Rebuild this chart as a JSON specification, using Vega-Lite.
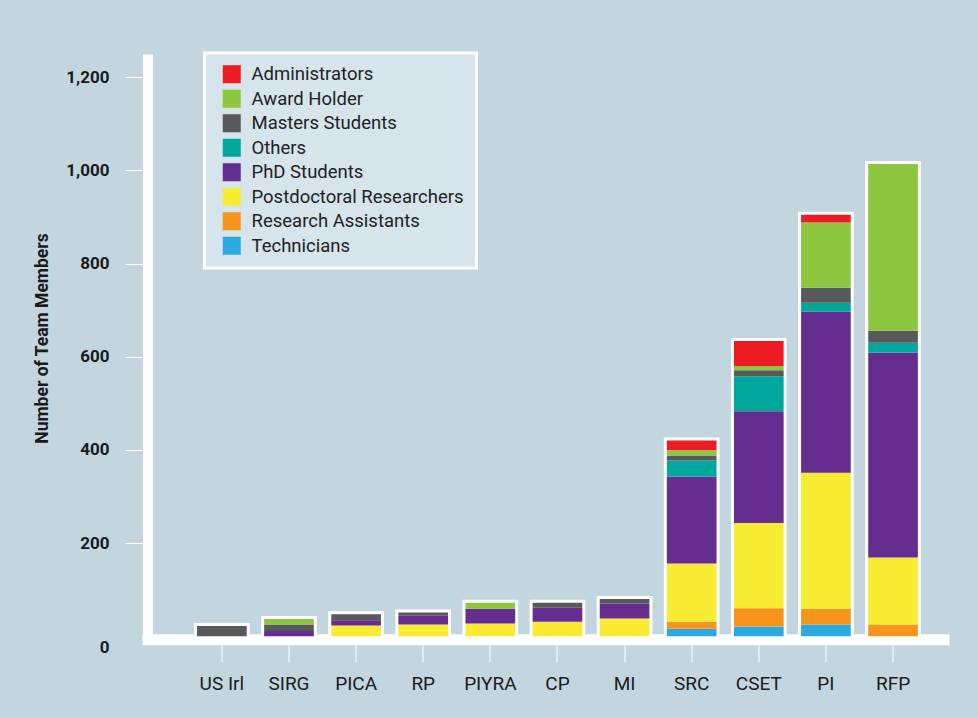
{
  "$schema": "https://vega.github.io/schema/vega-lite/v6.json",
  "autosize": {"type": "none"},
  "padding": {"left": 147.5, "top": 54, "right": 34.5, "bottom": 80.8},
  "width": 796,
  "height": 582.2,
  "background": "#c3d6e0",
  "data": {
    "values": [
      {"group": "US Irl", "role": "Masters Students", "count": 22},
      {"group": "SIRG", "role": "Masters Students", "count": 14},
      {"group": "SIRG", "role": "PhD Students", "count": 11},
      {"group": "SIRG", "role": "Award Holder", "count": 12},
      {"group": "PICA", "role": "Postdoctoral Researchers", "count": 23},
      {"group": "PICA", "role": "PhD Students", "count": 11},
      {"group": "PICA", "role": "Masters Students", "count": 13},
      {"group": "RP", "role": "Postdoctoral Researchers", "count": 25},
      {"group": "RP", "role": "PhD Students", "count": 19},
      {"group": "RP", "role": "Masters Students", "count": 7},
      {"group": "PIYRA", "role": "Postdoctoral Researchers", "count": 27},
      {"group": "PIYRA", "role": "PhD Students", "count": 32},
      {"group": "PIYRA", "role": "Award Holder", "count": 13},
      {"group": "CP", "role": "Postdoctoral Researchers", "count": 31},
      {"group": "CP", "role": "PhD Students", "count": 30},
      {"group": "CP", "role": "Masters Students", "count": 11},
      {"group": "MI", "role": "Postdoctoral Researchers", "count": 38},
      {"group": "MI", "role": "PhD Students", "count": 32},
      {"group": "MI", "role": "Masters Students", "count": 10},
      {"group": "SRC", "role": "Technicians", "count": 16},
      {"group": "SRC", "role": "Research Assistants", "count": 15},
      {"group": "SRC", "role": "Postdoctoral Researchers", "count": 125},
      {"group": "SRC", "role": "PhD Students", "count": 187},
      {"group": "SRC", "role": "Others", "count": 34},
      {"group": "SRC", "role": "Masters Students", "count": 11},
      {"group": "SRC", "role": "Award Holder", "count": 11},
      {"group": "SRC", "role": "Administrators", "count": 21},
      {"group": "CSET", "role": "Technicians", "count": 21},
      {"group": "CSET", "role": "Research Assistants", "count": 39},
      {"group": "CSET", "role": "Postdoctoral Researchers", "count": 183},
      {"group": "CSET", "role": "PhD Students", "count": 240},
      {"group": "CSET", "role": "Others", "count": 75},
      {"group": "CSET", "role": "Masters Students", "count": 13},
      {"group": "CSET", "role": "Award Holder", "count": 9},
      {"group": "CSET", "role": "Administrators", "count": 54},
      {"group": "PI", "role": "Technicians", "count": 25},
      {"group": "PI", "role": "Research Assistants", "count": 34},
      {"group": "PI", "role": "Postdoctoral Researchers", "count": 292},
      {"group": "PI", "role": "PhD Students", "count": 346},
      {"group": "PI", "role": "Others", "count": 19},
      {"group": "PI", "role": "Masters Students", "count": 32},
      {"group": "PI", "role": "Award Holder", "count": 140},
      {"group": "PI", "role": "Administrators", "count": 17},
      {"group": "RFP", "role": "Research Assistants", "count": 25},
      {"group": "RFP", "role": "Postdoctoral Researchers", "count": 144},
      {"group": "RFP", "role": "PhD Students", "count": 440},
      {"group": "RFP", "role": "Others", "count": 21},
      {"group": "RFP", "role": "Masters Students", "count": 26},
      {"group": "RFP", "role": "Award Holder", "count": 358}
    ]
  },
  "encoding": {
    "x": {
      "field": "group",
      "type": "nominal",
      "sort": ["US Irl", "SIRG", "PICA", "RP", "PIYRA", "CP", "MI", "SRC", "CSET", "PI", "RFP"],
      "scale": {"paddingInner": 0.26, "paddingOuter": 0.56, "align": 0.659},
      "axis": {
        "title": null,
        "labelAngle": 0,
        "domainColor": "white",
        "domainWidth": 11,
        "domainCap": "square",
        "offset": 3,
        "tickColor": "white",
        "tickWidth": 1,
        "tickSize": 22.5,
        "bandPosition": 0.5,
        "labelPadding": 13,
        "labelFont": "Roboto",
        "labelFontSize": 19,
        "labelColor": "#1a1a1a"
      }
    }
  },
  "layer": [
    {
      "mark": {"type": "bar", "color": "white", "stroke": "white", "strokeWidth": 6},
      "encoding": {
        "y": {
          "aggregate": "sum",
          "field": "count",
          "type": "quantitative",
          "scale": {"domain": [0, 1250], "nice": false},
          "axis": {
            "values": [0, 200, 400, 600, 800, 1000, 1200],
            "format": ",d",
            "grid": false,
            "domainColor": "white",
            "domainWidth": 10,
            "tickColor": "white",
            "tickWidth": 1,
            "tickSize": 22.5,
            "tickOpacity": {"condition": {"test": "datum.value === 0", "value": 0}, "value": 1},
            "labelPadding": 16,
            "labelOffset": {"condition": {"test": "datum.value === 0", "value": 11}, "value": 0},
            "labelFont": "Roboto",
            "labelFontSize": 17,
            "labelFontWeight": "bold",
            "labelColor": "#1a1a1a",
            "title": "Number of Team Members",
            "titleFont": "Roboto",
            "titleFontSize": 17.5,
            "titleFontWeight": "bold",
            "titleColor": "#1a1a1a",
            "titleAngle": -90,
            "titleX": -105,
            "titleY": 284,
            "titleAlign": "center",
            "titleBaseline": "middle"
          }
        }
      }
    },
    {
      "mark": {"type": "bar"},
      "encoding": {
        "y": {
          "field": "count",
          "type": "quantitative",
          "stack": "zero",
          "scale": {"domain": [0, 1250], "nice": false},
          "axis": {
            "values": [0, 200, 400, 600, 800, 1000, 1200],
            "format": ",d",
            "grid": false,
            "domainColor": "white",
            "domainWidth": 10,
            "tickColor": "white",
            "tickWidth": 1,
            "tickSize": 22.5,
            "tickOpacity": {"condition": {"test": "datum.value === 0", "value": 0}, "value": 1},
            "labelPadding": 16,
            "labelOffset": {"condition": {"test": "datum.value === 0", "value": 11}, "value": 0},
            "labelFont": "Roboto",
            "labelFontSize": 17,
            "labelFontWeight": "bold",
            "labelColor": "#1a1a1a",
            "title": "Number of Team Members",
            "titleFont": "Roboto",
            "titleFontSize": 17.5,
            "titleFontWeight": "bold",
            "titleColor": "#1a1a1a",
            "titleAngle": -90,
            "titleX": -105,
            "titleY": 284,
            "titleAlign": "center",
            "titleBaseline": "middle"
          }
        },
        "color": {
          "field": "role",
          "type": "nominal",
          "scale": {
            "domain": ["Administrators", "Award Holder", "Masters Students", "Others", "PhD Students", "Postdoctoral Researchers", "Research Assistants", "Technicians"],
            "range": ["#ed1c24", "#8dc63f", "#58595b", "#00a79d", "#662d91", "#f7ec31", "#f7941d", "#29abe2"]
          },
          "legend": {
            "title": null,
            "orient": "none",
            "legendX": 57,
            "legendY": -1,
            "fillColor": "#d6e4ec",
            "strokeColor": "white",
            "padding": 12,
            "symbolType": "square",
            "symbolSize": 324,
            "symbolStrokeWidth": 0,
            "symbolOffset": 6,
            "symbolOpacity": 1,
            "labelOffset": 10.5,
            "rowPadding": 5.5,
            "labelFont": "Roboto",
            "labelFontSize": 18.5,
            "labelColor": "#222222",
            "labelLimit": 400
          }
        },
        "order": {"field": "role", "sort": "descending"}
      }
    }
  ],
  "config": {
    "view": {"stroke": null},
    "legend": {"strokeWidth": 3}
  }
}
